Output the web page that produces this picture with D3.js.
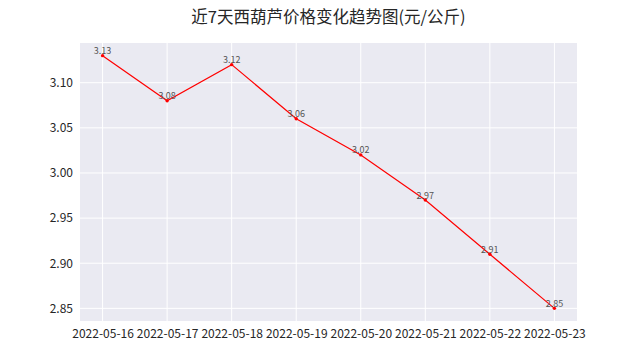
<!DOCTYPE html>
<html>
<head>
<meta charset="utf-8">
<script src="https://cdn.jsdelivr.net/npm/d3@7"></script>
<style>
  body { margin: 0; background: #fff; }
  text { font-family: "Noto Sans CJK SC", "DejaVu Sans", sans-serif; }
</style>
</head>
<body>
<div id="chart"></div>
<script>
    var dates = ['2022-05-16', '2022-05-17', '2022-05-18', '2022-05-19',
                 '2022-05-20', '2022-05-21', '2022-05-22', '2022-05-23'];
    var prices = [3.13, 3.08, 3.12, 3.06, 3.02, 2.97, 2.91, 2.85];
    var yTicks = [2.85, 2.90, 2.95, 3.00, 3.05, 3.10];
    var title = "近7天西葫芦价格变化趋势图(元/公斤)";

    var width = 641,
    height = 361,
    margin = {top: 43, right: 64, bottom: 40, left: 80};

    var svg = d3.select('#chart').append("svg")
      .attr("width", width)
      .attr("height", height);

    var x = d3.scaleLinear()
      .domain([-0.35, dates.length - 1 + 0.35])
      .range([margin.left, width - margin.right]);

    var yMin = d3.min(prices), yMax = d3.max(prices), pad = (yMax - yMin) * 0.05;
    var y = d3.scaleLinear()
      .domain([yMin - pad, yMax + pad])
      .range([height - margin.bottom, margin.top]);

    // background
    svg.append("rect")
      .attr("x", margin.left)
      .attr("y", margin.top)
      .attr("width", width - margin.left - margin.right)
      .attr("height", height - margin.top - margin.bottom)
      .attr("fill", "#eaeaf2");

    // grid
    svg.append("g").selectAll("line.v")
      .data(dates).enter().append("line")
      .attr("x1", function(d, i) { return x(i); })
      .attr("x2", function(d, i) { return x(i); })
      .attr("y1", margin.top)
      .attr("y2", height - margin.bottom)
      .attr("stroke", "#fff")
      .attr("stroke-width", 1);

    svg.append("g").selectAll("line.h")
      .data(yTicks).enter().append("line")
      .attr("x1", margin.left)
      .attr("x2", width - margin.right)
      .attr("y1", function(d) { return y(d); })
      .attr("y2", function(d) { return y(d); })
      .attr("stroke", "#fff")
      .attr("stroke-width", 1);

    // axes
    var xAxis = d3.axisBottom(x)
      .tickValues(d3.range(dates.length))
      .tickFormat(function(i) { return dates[i]; })
      .tickSize(0).tickPadding(8);

    var yAxis = d3.axisLeft(y)
      .tickValues(yTicks)
      .tickFormat(d3.format(".2f"))
      .tickSize(0).tickPadding(7);

    var gx = svg.append("g")
      .attr("transform", "translate(0," + (height - margin.bottom) + ")")
      .call(xAxis);
    var gy = svg.append("g")
      .attr("transform", "translate(" + margin.left + ",0)")
      .call(yAxis);

    [gx, gy].forEach(function(g) {
      g.select(".domain").remove();
      g.selectAll("text")
        .attr("fill", "#262626")
        .style("font-size", "12px");
    });

    // line
    var line = d3.line()
      .x(function(d, i) { return x(i); })
      .y(function(d) { return y(d); });

    svg.append("path")
      .datum(prices)
      .attr("d", line)
      .attr("fill", "none")
      .attr("stroke", "#ff0000")
      .attr("stroke-width", 1.2);

    svg.append("g").selectAll("circle")
      .data(prices).enter().append("circle")
      .attr("cx", function(d, i) { return x(i); })
      .attr("cy", function(d) { return y(d); })
      .attr("r", 1.7)
      .attr("fill", "#ff0000");

    svg.append("g").selectAll("text")
      .data(prices).enter().append("text")
      .attr("x", function(d, i) { return x(i); })
      .attr("y", function(d) { return y(d) - 1.5; })
      .attr("text-anchor", "middle")
      .attr("fill", "#555")
      .style("font-size", "9px")
      .text(function(d) { return d.toFixed(2); });

    // title
    svg.append("text")
      .attr("x", (margin.left + width - margin.right) / 2)
      .attr("y", 23)
      .attr("text-anchor", "middle")
      .attr("fill", "#262626")
      .style("font-size", "16.5px")
      .text(title);
</script>
</body>
</html>
